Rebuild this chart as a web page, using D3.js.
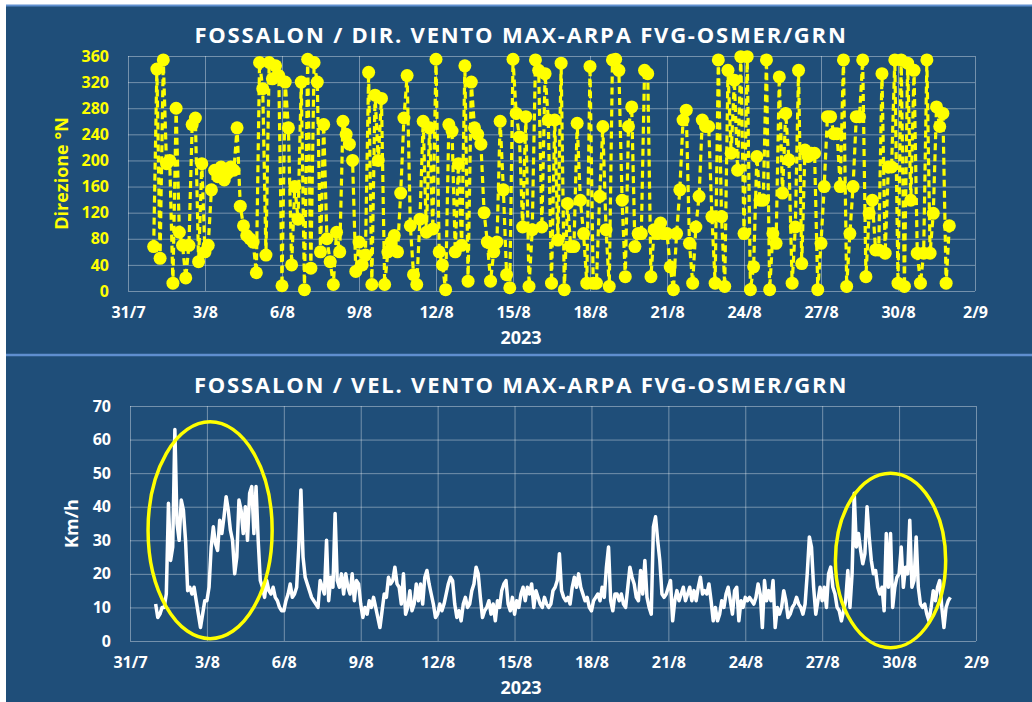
<!DOCTYPE html>
<html lang="it">
<head>
<meta charset="UTF-8">
<title>Fossalon vento</title>
<style>
	body{margin:0;background:#fff}
	svg{display:block}
	text{font-family:"Open Sans",sans-serif;font-weight:bold}
</style>
</head>
<body>
<svg></svg>
<script src="https://d3js.org/d3.v7.min.js"></script>
<script>

	// dati: direzione ogni 3 ore, velocità ogni 2 ore, dal 1/8/2023 00:00
	var startTime = "2023-08-01T00:00:00Z";
	var dirStepHours = 3;
	var speedStepHours = 2;

	var dirValues = [
		68,340,50,354,195,200,12,280,
		90,70,20,70,255,265,45,195,
		60,70,155,185,175,190,170,180,
		190,185,250,130,100,85,80,75,
		28,350,310,55,350,325,345,330,
		8,320,250,40,160,110,320,2,
		355,35,350,320,60,255,80,45,
		10,90,60,260,240,225,200,30,
		75,40,55,335,10,300,200,295,
		10,60,75,85,60,150,265,330,
		100,25,10,110,260,90,250,95,
		355,60,40,2,255,245,60,195,
		70,345,15,320,250,240,225,120,
		75,15,60,75,260,155,25,5,
		355,272,236,98,267,7,94,354,
		338,98,333,262,12,262,78,349,
		2,134,68,68,257,139,88,12,
		344,12,12,145,252,94,7,354,
		355,338,139,22,252,282,68,88,
		88,338,333,22,94,88,104,88,
		88,37,2,88,155,262,277,73,
		12,98,145,262,252,252,114,12,
		354,114,7,338,211,323,185,359,
		88,359,2,37,206,139,139,354,
		2,88,73,328,150,272,201,12,
		98,338,42,216,206,211,211,2,
		73,160,267,267,241,241,160,354,
		7,88,160,267,267,354,22,119,
		139,63,63,333,58,190,190,354,
		12,354,7,349,139,338,58,12,
		58,354,58,119,282,252,272,12,
		100
	];

	var speedValues = [
		11,7,8,10,10,14,41,24,28,63,35,30,
		42,39,30,15,16,14,16,12,8,4,8,12,
		12,16,28,34,29,27,36,32,37,43,39,33,
		30,20,25,42,39,32,40,30,44,46,32,46,
		30,18,16,13,18,15,14,16,13,12,10,9,
		9,12,14,17,13,14,16,28,45,25,19,17,
		15,13,12,11,10,18,16,14,30,12,19,16,
		38,18,16,20,14,20,16,14,20,12,18,17,
		11,7,10,8,12,10,13,10,7,4,9,14,
		13,19,17,18,22,17,16,11,20,8,10,15,
		9,11,17,12,17,11,19,21,17,14,11,7,
		8,11,9,11,14,17,19,18,11,7,9,6,
		11,13,10,11,15,17,22,20,13,7,9,10,
		12,8,11,6,12,10,15,17,18,11,9,13,
		8,12,10,14,16,12,16,14,17,10,15,13,
		11,10,13,11,10,11,15,16,18,26,15,13,
		12,13,11,16,19,16,20,16,14,12,13,10,
		9,12,13,14,12,16,13,22,28,12,9,14,
		14,12,14,11,10,16,22,19,17,13,12,21,
		14,24,13,10,8,34,37,30,24,14,13,14,
		16,18,6,12,15,12,14,16,12,14,16,12,
		15,12,16,19,14,15,14,17,12,6,10,6,
		8,12,10,14,16,12,8,15,16,6,12,10,
		13,12,13,12,11,13,17,14,4,18,12,15,
		12,18,4,10,8,10,15,12,7,8,10,11,
		13,11,10,8,11,20,31,28,16,8,12,16,
		12,16,10,20,22,16,14,10,9,6,9,12,
		21,10,20,44,28,32,27,23,26,40,31,24,
		20,21,16,14,16,9,32,16,32,10,16,19,
		20,28,16,22,20,36,16,18,31,16,11,10,
		11,8,6,10,15,12,16,18,10,4,10,12,
		13
	];

	var xTickLabels = ["31/7","3/8","6/8","9/8","12/8","15/8","18/8","21/8","24/8","27/8","30/8","2/9"];
	var dirTicks = [0,40,80,120,160,200,240,280,320,360];
	var speedTicks = [0,10,20,30,40,50,60,70];

	// cerchi gialli di evidenziazione (centro data/valore, semiassi in giorni e km/h)
	var highlights = [
		{center:"2023-08-03T03:00:00Z", value:33, rxDays:2.42, ryValue:32.3},
		{center:"2023-08-29T16:00:00Z", value:24, rxDays:2.15, ryValue:26}
	];

	var titles = ["FOSSALON / DIR. VENTO MAX-ARPA FVG-OSMER/GRN", "FOSSALON / VEL. VENTO MAX-ARPA FVG-OSMER/GRN"];

	var W = 1032, H = 702;
	var bg = "#1f4e79";
	var gridColor = "rgba(255,255,255,0.38)";

	var svg = d3.select("svg").attr("width",W).attr("height",H);

	var parseTick = d3.utcParse("%d/%m/%Y");
	var tickDates = xTickLabels.map(function(s){ return parseTick(s+"/2023"); });
	var t0 = new Date(startTime).getTime();
	var dirData = dirValues.map(function(v,i){ return {t:new Date(t0+i*dirStepHours*3600e3), v:v}; });
	var speedData = speedValues.map(function(v,i){ return {t:new Date(t0+i*speedStepHours*3600e3), v:v}; });

	// sfondi pannelli
	svg.append("rect").attr("x",6).attr("y",5).attr("width",W-6).attr("height",349).attr("fill",bg);
	svg.append("rect").attr("x",6).attr("y",354).attr("width",W-6).attr("height",H-354).attr("fill",bg);
	svg.append("line").attr("x1",6).attr("x2",W).attr("y1",5.5).attr("y2",5.5).attr("stroke","#5f8fd0").attr("stroke-width",2);
	svg.append("line").attr("x1",6).attr("x2",W).attr("y1",355).attr("y2",355).attr("stroke","#5f8fd0").attr("stroke-width",2.5);

	function drawPanel(opt){
		var g = svg.append("g");
		var x = d3.scaleUtc().domain([tickDates[0], tickDates[tickDates.length-1]]).range(opt.xr);
		var y = d3.scaleLinear().domain([opt.ticks[0], opt.ticks[opt.ticks.length-1]]).range(opt.yr);
		var ph = opt.yr[0]-opt.yr[1], pw = opt.xr[1]-opt.xr[0];

		var gx = g.append("g")
			.attr("transform","translate(0,"+opt.yr[0]+")")
			.call(d3.axisBottom(x).tickValues(tickDates).tickSize(-ph).tickPadding(16)
				.tickFormat(function(d,i){ return xTickLabels[i]; }));
		var gy = g.append("g")
			.attr("transform","translate("+opt.xr[0]+",0)")
			.call(d3.axisLeft(y).tickValues(opt.ticks).tickSize(-pw).tickPadding(19));
		[gx,gy].forEach(function(a){
			a.select(".domain").remove();
			a.selectAll("line").attr("stroke",gridColor).attr("stroke-width",1);
			a.selectAll("text").attr("font-size","16px").attr("font-family","'Open Sans',sans-serif");
		});
		gx.selectAll("text").attr("fill","#fff");
		gy.selectAll("text").attr("fill",opt.tickColor);

		g.append("text")
			.attr("x",521).attr("y",opt.yr[1]-13)
			.attr("text-anchor","middle").attr("fill","#fff")
			.attr("font-size","22px").attr("letter-spacing","1.8px")
			.text(opt.title);
		g.append("text")
			.attr("x",521).attr("y",opt.yr[0]+53)
			.attr("text-anchor","middle").attr("fill","#fff").attr("font-size","18px")
			.text("2023");
		g.append("text")
			.attr("transform","translate("+opt.ylx+","+(opt.yr[0]+opt.yr[1])/2+") rotate(-90)")
			.attr("text-anchor","middle").attr("dy","0.35em")
			.attr("fill",opt.tickColor).attr("font-size","18px")
			.text(opt.ylabel);
		return {g:g, x:x, y:y};
	}

	// pannello direzione
	var p1 = drawPanel({xr:[128,975], yr:[291,56], ticks:dirTicks, tickColor:"#ffff00",
		title:titles[0], ylabel:"Direzione °N", ylx:62});

	var dirLine = d3.line().x(function(d){ return p1.x(d.t); }).y(function(d){ return p1.y(d.v); });
	p1.g.append("path").datum(dirData)
		.attr("d",dirLine).attr("fill","none")
		.attr("stroke","#ffff00").attr("stroke-width",3.2).attr("stroke-dasharray","7,4");
	p1.g.append("g").selectAll("circle")
		.data(dirData).enter().append("circle")
		.attr("cx",function(d){ return p1.x(d.t); })
		.attr("cy",function(d){ return p1.y(d.v); })
		.attr("r",6.5).attr("fill","#ffff00");

	// pannello velocità
	var p2 = drawPanel({xr:[130,976], yr:[641,406], ticks:speedTicks, tickColor:"#fff",
		title:titles[1], ylabel:"Km/h", ylx:72});

	var speedLine = d3.line().x(function(d){ return p2.x(d.t); }).y(function(d){ return p2.y(d.v); });
	p2.g.append("path").datum(speedData)
		.attr("d",speedLine).attr("fill","none")
		.attr("stroke","#fff").attr("stroke-width",3.5).attr("stroke-linejoin","round");

	p2.g.append("g").selectAll("ellipse")
		.data(highlights).enter().append("ellipse")
		.attr("cx",function(d){ return p2.x(new Date(d.center)); })
		.attr("cy",function(d){ return p2.y(d.value); })
		.attr("rx",function(d){ return p2.x(new Date(new Date(d.center).getTime()+d.rxDays*86400e3)) - p2.x(new Date(d.center)); })
		.attr("ry",function(d){ return p2.y(0) - p2.y(d.ryValue); })
		.attr("fill","none").attr("stroke","#ffff00").attr("stroke-width",3.5);

</script>
</body>
</html>
